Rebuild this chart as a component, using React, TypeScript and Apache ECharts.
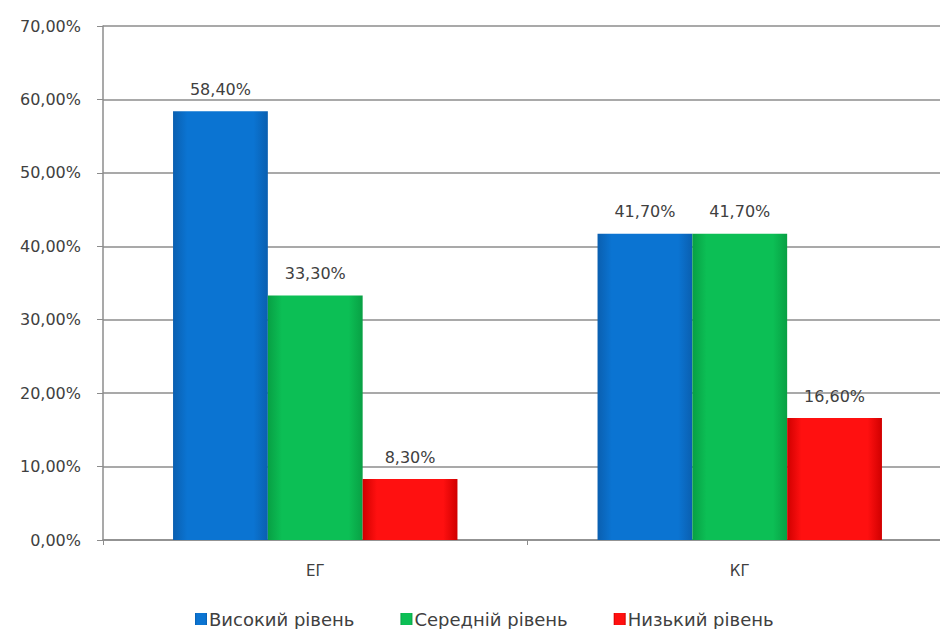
import React, { useEffect, useRef } from "react";
import * as echarts from "echarts";

const categories = ["ЕГ", "КГ"];
const seriesNames = ["Високий рівень", "Середній рівень", "Низький рівень"];
const highValues = [58.4, 41.7];
const midValues = [33.3, 41.7];
const lowValues = [8.3, 16.6];
const colors = [
  ["#0a5fb0", "#0b74d2", "#0a5fb0"],
  ["#08a044", "#0cbf55", "#08a044"],
  ["#d00000", "#ff1010", "#d00000"],
];

const fmt = (v: number) => v.toFixed(2).replace(".", ",") + "%";

export default function App() {
  const ref = useRef<HTMLDivElement>(null);
  useEffect(() => {
    const chart = echarts.init(ref.current!, null, { renderer: "svg" });
    const data = [highValues, midValues, lowValues];
    chart.setOption({
      animation: false,
      textStyle: { fontFamily: "'DejaVu Sans', Verdana, sans-serif" },
      grid: { left: 103, width: 849, top: 26, bottom: 89, outerBoundsMode: "none", containLabel: false },
      legend: {
        top: 610,
        left: 195,
        padding: 0,
        itemWidth: 12,
        itemHeight: 12,
        itemGap: 46,
        icon: "rect",
        textStyle: { fontSize: 18, color: "#404040", padding: [0, 0, 0, -3] },
        data: seriesNames,
      },
      xAxis: {
        type: "category",
        data: categories,
        axisLine: { lineStyle: { color: "#8c8c8c", width: 1.5 } },
        axisTick: { show: true, length: 5, lineStyle: { color: "#8c8c8c" } },
        axisLabel: { color: "#404040", fontSize: 15, margin: 23 },
      },
      yAxis: {
        type: "value",
        min: 0,
        max: 70,
        interval: 10,
        axisLine: { show: true, lineStyle: { color: "#8c8c8c", width: 1.5 } },
        axisTick: { show: true, length: 6, lineStyle: { color: "#8c8c8c" } },
        splitLine: { lineStyle: { color: "#8c8c8c", width: 1.5 } },
        axisLabel: { color: "#404040", fontSize: 16, margin: 22, formatter: (v: number) => fmt(v) },
      },
      series: seriesNames.map((name, i) => ({
        name,
        type: "bar",
        data: data[i],
        barGap: "0%",
        barCategoryGap: "33%",
        itemStyle: {
          color: new echarts.graphic.LinearGradient(0, 0, 1, 0, [
            { offset: 0, color: colors[i][0] },
            { offset: 0.15, color: colors[i][1] },
            { offset: 0.85, color: colors[i][1] },
            { offset: 1, color: colors[i][0] },
          ]),
        },
        label: {
          show: true,
          position: "top",
          distance: 14,
          color: "#404040",
          fontSize: 16,
          formatter: (p: any) => fmt(p.value),
        },
      })),
    });
    return () => chart.dispose();
  }, []);
  return <div ref={ref} style={{ width: 940, height: 629, position: "absolute", left: 0, top: 0, background: "#fff" }} />;
}
